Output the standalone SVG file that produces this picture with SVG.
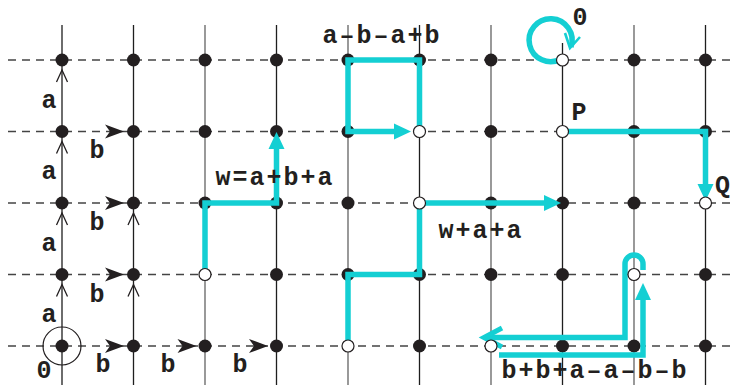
<svg xmlns="http://www.w3.org/2000/svg" width="731" height="385" viewBox="0 0 731 385">
  <style>
    .row { stroke: #444; stroke-width: 1.3; stroke-dasharray: 8 6; fill: none; }
    .colk { stroke: #1e1e1e; stroke-width: 1.3; }
    .colg { stroke: #808080; stroke-width: 1.6; }
    .dot { fill: #231f20; }
    .hole { fill: #fff; stroke: #231f20; stroke-width: 1.2; }
    .chev { fill: none; stroke: #231f20; stroke-width: 1.3; }
    .path { fill: none; stroke: #14cfd3; stroke-width: 5.5; stroke-linejoin: miter; }
    .cyan { fill: #14cfd3; }
    .lbl { font-family: "Liberation Mono", "DejaVu Sans Mono", monospace; font-weight: bold; font-size: 25px; letter-spacing: 2px; fill: #231f20; }
    .mid { text-anchor: middle; }
  </style>
  <defs>
    <path id="bhead" d="M0,0 L-19,-7 L-14,0 L-19,7 Z" fill="#231f20"/>
    <path id="chev" d="M-5.5,12 L0,0 L5.5,12" class="chev"/>
    <path id="chead" d="M0,0 L-17,-8 L-17,8 Z" class="cyan"/>
  </defs>

  <!-- lattice lines -->
  <g id="lattice">
    <line class="row" x1="8" y1="60" x2="731" y2="60"/>
    <line class="row" x1="8" y1="131.5" x2="731" y2="131.5"/>
    <line class="row" x1="8" y1="203" x2="731" y2="203"/>
    <line class="row" x1="8" y1="274.5" x2="731" y2="274.5"/>
    <line class="row" x1="8" y1="346" x2="731" y2="346"/>
    <line class="colk" x1="62" y1="25" x2="62" y2="385"/>
    <line class="colk" x1="133.5" y1="25" x2="133.5" y2="385"/>
    <line class="colg" x1="205" y1="25" x2="205" y2="385"/>
    <line class="colk" x1="276.5" y1="25" x2="276.5" y2="385"/>
    <line class="colg" x1="348" y1="25" x2="348" y2="385"/>
    <line class="colk" x1="419.5" y1="25" x2="419.5" y2="385"/>
    <line class="colg" x1="491" y1="25" x2="491" y2="385"/>
    <line class="colk" x1="562.5" y1="43" x2="562.5" y2="385"/>
    <line class="colg" x1="634" y1="25" x2="634" y2="385"/>
    <line class="colk" x1="705.5" y1="25" x2="705.5" y2="385"/>
  </g>

  <!-- generator arrows a (up) and b (right) -->
  <g id="generators">
    <use href="#chev" x="62" y="70"/>
    <use href="#chev" x="62" y="141.5"/>
    <use href="#chev" x="62" y="213"/>
    <use href="#chev" x="62" y="284.5"/>
    <use href="#chev" x="133.5" y="213"/>
    <use href="#chev" x="133.5" y="284.5"/>
    <use href="#bhead" x="124" y="131.5"/>
    <use href="#bhead" x="124" y="203"/>
    <use href="#bhead" x="124" y="274.5"/>
    <use href="#bhead" x="124" y="346"/>
    <use href="#bhead" x="196.5" y="346"/>
    <use href="#bhead" x="268" y="346"/>
    <circle cx="62" cy="346" r="19" fill="none" stroke="#231f20" stroke-width="1.2"/>
  </g>

  <!-- filled lattice points -->
  <g id="points">
    <circle id="p1-1" class="dot" cx="62" cy="60" r="6.5"/>
    <circle id="p2-1" class="dot" cx="133.5" cy="60" r="6.5"/>
    <circle id="p3-1" class="dot" cx="205" cy="60" r="6.5"/>
    <circle id="p4-1" class="dot" cx="276.5" cy="60" r="6.5"/>
    <circle id="p5-1" class="dot" cx="348" cy="60" r="6.5"/>
    <circle id="p6-1" class="dot" cx="419.5" cy="60" r="6.5"/>
    <circle id="p7-1" class="dot" cx="491" cy="60" r="6.5"/>
    <circle id="p9-1" class="dot" cx="634" cy="60" r="6.5"/>
    <circle id="p10-1" class="dot" cx="705.5" cy="60" r="6.5"/>

    <circle id="p1-2" class="dot" cx="62" cy="131.5" r="6.5"/>
    <circle id="p2-2" class="dot" cx="133.5" cy="131.5" r="6.5"/>
    <circle id="p3-2" class="dot" cx="205" cy="131.5" r="6.5"/>
    <circle id="p4-2" class="dot" cx="276.5" cy="131.5" r="6.5"/>
    <circle id="p5-2" class="dot" cx="348" cy="131.5" r="6.5"/>
    <circle id="p7-2" class="dot" cx="491" cy="131.5" r="6.5"/>
    <circle id="p9-2" class="dot" cx="634" cy="131.5" r="6.5"/>
    <circle id="p10-2" class="dot" cx="705.5" cy="131.5" r="6.5"/>

    <circle id="p1-3" class="dot" cx="62" cy="203" r="6.5"/>
    <circle id="p2-3" class="dot" cx="133.5" cy="203" r="6.5"/>
    <circle id="p3-3" class="dot" cx="205" cy="203" r="6.5"/>
    <circle id="p4-3" class="dot" cx="276.5" cy="203" r="6.5"/>
    <circle id="p5-3" class="dot" cx="348" cy="203" r="6.5"/>
    <circle id="p7-3" class="dot" cx="491" cy="203" r="6.5"/>
    <circle id="p8-3" class="dot" cx="562.5" cy="203" r="6.5"/>
    <circle id="p9-3" class="dot" cx="634" cy="203" r="6.5"/>

    <circle id="p1-4" class="dot" cx="62" cy="274.5" r="6.5"/>
    <circle id="p2-4" class="dot" cx="133.5" cy="274.5" r="6.5"/>
    <circle id="p4-4" class="dot" cx="276.5" cy="274.5" r="6.5"/>
    <circle id="p5-4" class="dot" cx="348" cy="274.5" r="6.5"/>
    <circle id="p6-4" class="dot" cx="419.5" cy="274.5" r="6.5"/>
    <circle id="p7-4" class="dot" cx="491" cy="274.5" r="6.5"/>
    <circle id="p8-4" class="dot" cx="562.5" cy="274.5" r="6.5"/>
    <circle id="p10-4" class="dot" cx="705.5" cy="274.5" r="6.5"/>

    <circle id="p1-5" class="dot" cx="62" cy="346" r="6.5"/>
    <circle id="p2-5" class="dot" cx="133.5" cy="346" r="6.5"/>
    <circle id="p3-5" class="dot" cx="205" cy="346" r="6.5"/>
    <circle id="p4-5" class="dot" cx="276.5" cy="346" r="6.5"/>
    <circle id="p6-5" class="dot" cx="419.5" cy="346" r="6.5"/>
    <circle id="p8-5" class="dot" cx="562.5" cy="346" r="6.5"/>
    <circle id="p9-5" class="dot" cx="634" cy="346" r="6.5"/>
    <circle id="p10-5" class="dot" cx="705.5" cy="346" r="6.5"/>
  </g>

  <!-- word paths -->
  <g id="connectors">
    <!-- w = a+b+a -->
    <path class="path" d="M205,274.5 V203 H276.5 V148"/>
    <use href="#chead" transform="translate(276.5,132) rotate(-90)"/>
    <!-- a-b-a+b -->
    <path class="path" d="M419.5,126 V60 H348 V131.5 H396"/>
    <use href="#chead" x="411" y="131.5"/>
    <!-- w+a+a -->
    <path class="path" d="M348,346 V274.5 H419.5 V203 H546"/>
    <use href="#chead" x="561" y="203"/>
    <!-- P to Q -->
    <path class="path" d="M562.5,131.5 H705.5 V186"/>
    <use href="#chead" transform="translate(705.5,201) rotate(90)"/>
    <!-- trivial loop 0 -->
    <path class="path" d="M561,59 A21.5,21.5 0 1 1 571,47"/>
    <path d="M565,33 L570,48 L580,37" fill="none" stroke="#14cfd3" stroke-width="2.6"/>
    <!-- b+b+a-a-b-b -->
    <path class="path" d="M499,355 H643 V299"/>
    <use href="#chead" transform="translate(643,283) rotate(-90)"/>
    <path class="path" d="M643,270 V264 A9,9 0 0 0 625,264 V337.5 H486"/>
    <path d="M502,328 L484,337.5 L502,347" fill="none" stroke="#14cfd3" stroke-width="5"/>
  </g>

  <!-- open lattice points -->
  <g id="marked">
    <circle id="p6-2" class="hole" cx="419.5" cy="131.5" r="6"/>
    <circle id="p6-3" class="hole" cx="419.5" cy="203" r="6"/>
    <circle id="p3-4" class="hole" cx="205" cy="274.5" r="6"/>
    <circle id="p5-5" class="hole" cx="348" cy="346" r="6"/>
    <circle id="p7-5" class="hole" cx="491" cy="346" r="6"/>
    <circle id="p8-1" class="hole" cx="562.5" cy="60" r="6"/>
    <circle id="p8-2" class="hole" cx="562.5" cy="131.5" r="6"/>
    <circle id="p10-3" class="hole" cx="705.5" cy="203" r="6"/>
    <circle id="p9-4" class="hole" cx="634" cy="274.5" r="6"/>
  </g>

  <!-- labels -->
  <g id="labels">
    <text class="lbl mid" x="50" y="107.5">a</text>
    <text class="lbl mid" x="50" y="179">a</text>
    <text class="lbl mid" x="50" y="250.5">a</text>
    <text class="lbl mid" x="50" y="322">a</text>
    <text class="lbl mid" x="98" y="158">b</text>
    <text class="lbl mid" x="98" y="230">b</text>
    <text class="lbl mid" x="98" y="301.5">b</text>
    <text class="lbl mid" x="104" y="372">b</text>
    <text class="lbl mid" x="169" y="372">b</text>
    <text class="lbl mid" x="241" y="372">b</text>
    <text class="lbl mid" x="45" y="378">0</text>
    <text class="lbl mid" x="382" y="43">a–b–a+b</text>
    <text class="lbl mid" x="275" y="185">w=a+b+a</text>
    <text class="lbl mid" x="481" y="238">w+a+a</text>
    <text class="lbl mid" x="580" y="120">P</text>
    <text class="lbl" x="715" y="193">Q</text>
    <text class="lbl mid" x="581" y="25">0</text>
    <text class="lbl mid" x="595" y="378">b+b+a–a–b–b</text>
  </g>
</svg>
